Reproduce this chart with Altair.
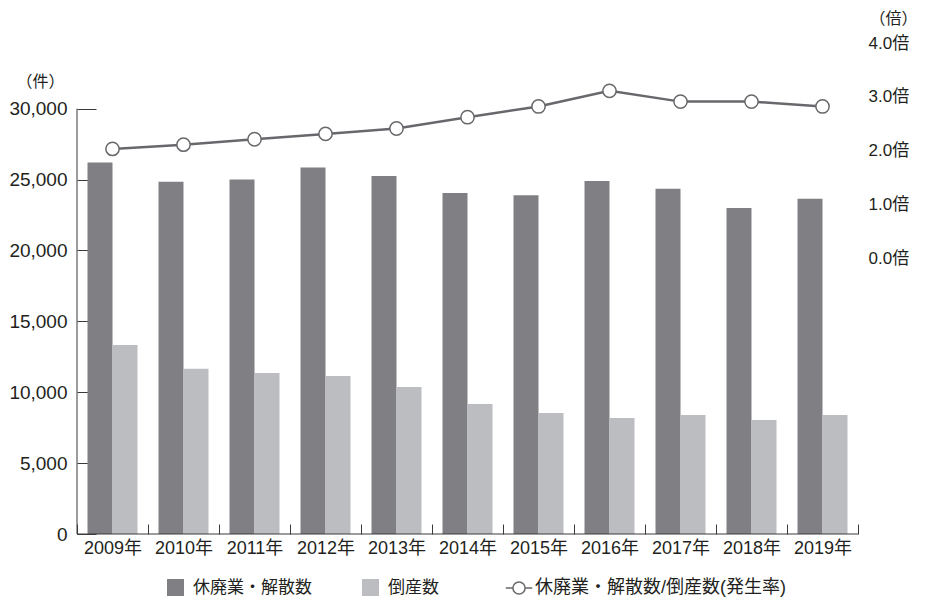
import altair as alt
import pandas as pd

# ---------------- data ----------------
years = ["2009年", "2010年", "2011年", "2012年", "2013年", "2014年",
         "2015年", "2016年", "2017年", "2018年", "2019年"]
closures = [26200, 24850, 25000, 25850, 25250, 24050, 23900, 24900, 24350, 23000, 23650]
bankruptcies = [13340, 11650, 11360, 11150, 10370, 9170, 8540, 8190, 8400, 8050, 8400]
ratios = [2.03, 2.11, 2.21, 2.31, 2.41, 2.62, 2.82, 3.11, 2.91, 2.91, 2.82]
series_names = ["休廃業・解散数", "倒産数"]
line_name = "休廃業・解散数/倒産数(発生率)"
left_ticks = [0, 5000, 10000, 15000, 20000, 25000, 30000]
right_ticks = [0, 1, 2, 3, 4]

bars_df = pd.DataFrame({
    "year": years * 2,
    "series": [series_names[0]] * len(years) + [series_names[1]] * len(years),
    "value": closures + bankruptcies,
})
line_df = pd.DataFrame({"year": years, "ratio": ratios, "label": [line_name] * len(years)})

# ---------------- style ----------------
W, H = 781, 491
FONT = "Liberation Sans, Noto Sans CJK JP"
TXT = "#231f20"
AX = "#3a3a3c"
DARK = "#808084"
LIGHT = "#bcbdc1"
LINE = "#68686c"

x_enc = alt.X(
    "year:N", sort=years,
    scale=alt.Scale(paddingInner=0, paddingOuter=0),
    axis=alt.Axis(title=None, labelAngle=0, offset=-10, tickSize=10, domain=False,
                  tickBand="extent", tickColor=AX, tickWidth=1, labelPadding=5,
                  labelFont=FONT, labelFontSize=18, labelColor=TXT, grid=False),
)

y_left = alt.Y(
    "value:Q",
    scale=alt.Scale(domain=[0, 34638], nice=False, zero=True),
    axis=alt.Axis(values=left_ticks, labelExpr="format(datum.value, ',')",
                  offset=-19, tickSize=19, domain=False,
                  tickColor=AX, tickWidth=1, grid=False, labelPadding=10,
                  labelFont=FONT, labelFontSize=19, labelColor=TXT,
                  title="（件）", titleAngle=0, titleFont=FONT, titleFontSize=16,
                  titleFontWeight="normal", titleColor=TXT,
                  titleX=-56, titleY=38, titleAlign="center", titleBaseline="middle"),
)

bars = alt.Chart(bars_df).mark_bar().encode(
    x=x_enc,
    xOffset=alt.XOffset("series:N", sort=series_names,
                        scale=alt.Scale(paddingInner=0, paddingOuter=0.42)),
    y=y_left,
    color=alt.Color(
        "series:N", sort=series_names,
        scale=alt.Scale(domain=series_names, range=[DARK, LIGHT]),
        legend=alt.Legend(orient="none", legendX=90, legendY=536, direction="horizontal",
                          title=None, symbolType="square", symbolSize=289,
                          symbolStrokeWidth=0, labelFont=FONT, labelFontSize=17,
                          labelColor=TXT, columnPadding=50, labelOffset=9, padding=0,
                          labelLimit=400),
    ),
)

axis_line = alt.Chart(pd.DataFrame({"a": [0]})).mark_rule(color=AX, strokeWidth=1).encode(
    x=alt.value(0), y=alt.datum(0), y2=alt.datum(30000)
)
base_line = alt.Chart(pd.DataFrame({"a": [0]})).mark_rule(color=AX, strokeWidth=1).encode(
    x=alt.value(0), x2=alt.value(W), y=alt.datum(0)
)

left = alt.layer(bars, axis_line, base_line)

y_right = alt.Y(
    "ratio:Q",
    scale=alt.Scale(domain=[-5.13, 4], nice=False, zero=False),
    axis=alt.Axis(orient="right", values=right_ticks,
                  labelExpr="format(datum.value, '.1f') + '倍'",
                  domain=False, ticks=False, tickSize=0, grid=False, labelPadding=10,
                  labelFont=FONT, labelFontSize=17, labelColor=TXT,
                  title="（倍）", titleAngle=0, titleFont=FONT, titleFontSize=16,
                  titleFontWeight="normal", titleColor=TXT,
                  titleX=35, titleY=-25, titleAlign="center", titleBaseline="middle"),
)

line_path = ("M-1,0L-0.46,0M0.46,0L1,0"
             "M0.46,0A0.46,0.46,0,1,1,-0.46,0A0.46,0.46,0,1,1,0.46,0Z")

line = alt.Chart(line_df).mark_line(color=LINE, strokeWidth=2.5).encode(
    x=alt.X("year:N", sort=years), y=y_right
)
points = alt.Chart(line_df).mark_point(
    shape="circle", filled=True, fill="white", size=177, strokeWidth=1.5, opacity=1
).encode(
    x=alt.X("year:N", sort=years),
    y=y_right,
    stroke=alt.Stroke(
        "label:N", scale=alt.Scale(domain=[line_name], range=[LINE]),
        legend=alt.Legend(orient="none", legendX=428, legendY=531, title=None,
                          symbolType=line_path, symbolSize=700, symbolFillColor="white",
                          symbolStrokeWidth=1.5, labelFont=FONT, labelFontSize=18,
                          labelColor=TXT, labelOffset=2, padding=0, labelLimit=400),
    ),
)

right = alt.layer(line, points)

chart = alt.layer(left, right).resolve_scale(y="independent").properties(
    width=W, height=H,
    autosize=alt.AutoSizeParams(type="none"),
    padding={"left": 77, "top": 43, "right": 925 - 77 - W, "bottom": 599 - 43 - H},
    background="white",
).configure_view(stroke=None)

chart.save("out.html", embed_options={"renderer": "svg", "actions": False})
